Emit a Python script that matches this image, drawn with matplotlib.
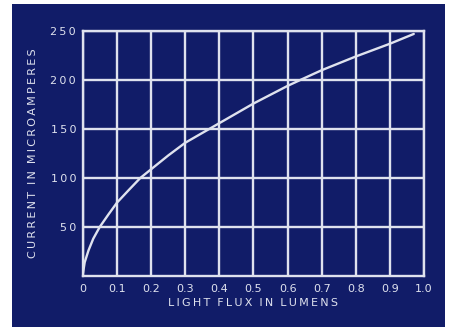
import matplotlib
matplotlib.use("Agg")
import matplotlib.pyplot as plt
from matplotlib.patches import Rectangle

flux = [0.0, 0.005, 0.016, 0.03, 0.049, 0.075, 0.1, 0.135, 0.168, 0.2, 0.25,
        0.3, 0.37, 0.4, 0.5, 0.6, 0.637, 0.7, 0.8, 0.9, 0.97]
current = [3, 14, 26, 38, 50, 63, 75, 88, 100, 109, 123,
           136, 150, 156, 176, 194, 200, 210, 224, 237, 247]

xticks = [0, 0.1, 0.2, 0.3, 0.4, 0.5, 0.6, 0.7, 0.8, 0.9, 1.0]
xticklabels = ["0", "0.1", "0.2", "0.3", "0.4", "0.5", "0.6", "0.7", "0.8", "0.9", "1.0"]
yticks = [50, 100, 150, 200, 250]
yticklabels = ["50", "100", "150", "200", "250"]
xlabel = "LIGHT FLUX IN LUMENS"
ylabel = "CURRENT IN MICROAMPERES"

W, H = 456, 329
bg = "#111c68"
fg = "#dfe2ee"
TS = "\u2009"


def spaced(s):
    return TS.join(s)


fig = plt.figure(figsize=(W / 100, H / 100), dpi=100, facecolor="white")
fig.patches.append(Rectangle((12 / W, 1 - 327 / H), (445 - 12) / W, (327 - 4) / H,
                             transform=fig.transFigure, facecolor=bg, edgecolor="none", zorder=-10))

ax = fig.add_axes([83 / W, 1 - 276 / H, (424 - 83) / W, (276 - 31) / H])
ax.set_zorder(5)
ax.set_facecolor(bg)
ax.set_xlim(0, 1.0)
ax.set_ylim(0, 250)
ax.set_xticks(xticks)
ax.set_xticklabels(xticklabels)
ax.set_yticks(yticks)
ax.set_yticklabels([spaced(t) for t in yticklabels])
ax.grid(True, color=fg, linewidth=1.7)
for s in ax.spines.values():
    s.set_color(fg)
    s.set_linewidth(1.7)
ax.tick_params(length=0, colors=fg, labelsize=8)
ax.tick_params(axis="x", pad=6)
ax.tick_params(axis="y", pad=5)
ax.plot(flux, current, color=fg, linewidth=1.7, zorder=3, solid_capstyle="round")
ax.set_xlabel(spaced(xlabel).replace(TS + " " + TS, "  "), color=fg, fontsize=8, labelpad=3)
ax.set_ylabel(spaced(ylabel).replace(TS + " " + TS, "  "), color=fg, fontsize=8, labelpad=9)

fig.savefig("out.png", dpi=100, facecolor="white")
